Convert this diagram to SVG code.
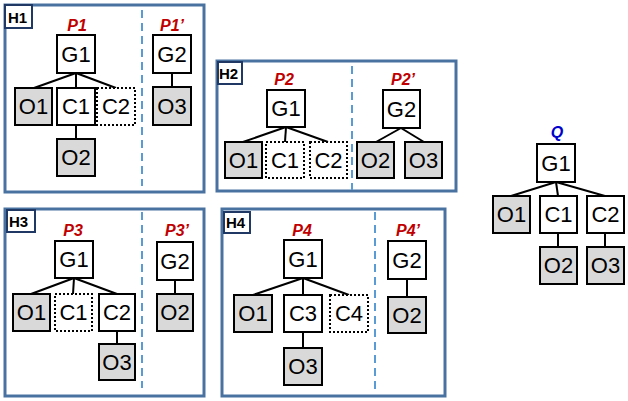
<svg xmlns="http://www.w3.org/2000/svg" width="628" height="401" viewBox="0 0 628 401">
<style>
.panel{fill:#fff;stroke:#4a72a0;stroke-width:3}
.hl{fill:#fff;stroke:#1f3864;stroke-width:2}
.ht{font-family:"Liberation Sans",Arial,sans-serif;font-weight:bold;font-size:15px;fill:#000}
.pt{font-family:"Liberation Sans",Arial,sans-serif;font-weight:bold;font-style:italic;font-size:16px;fill:#c00000;text-anchor:middle}
.qt{fill:#0000cc}
.div{stroke:#5b9bd5;stroke-width:2;stroke-dasharray:8,5}
.w rect{fill:#fff;stroke:#000;stroke-width:2}
.o rect{fill:#d9d9d9;stroke:#000;stroke-width:2}
.d rect{fill:#fff;stroke:#000;stroke-width:2;stroke-dasharray:2,2}
.n text{font-family:"Liberation Sans",Arial,sans-serif;font-size:22px;text-anchor:middle;fill:#000}
.e line{stroke:#000;stroke-width:2}
</style>
<rect width="628" height="401" fill="#fff"/>
<!-- panels -->
<rect class="panel" x="5" y="5" width="199" height="187"/>
<rect class="panel" x="217" y="61" width="239" height="130"/>
<rect class="panel" x="5" y="209" width="199" height="187"/>
<rect class="panel" x="222" y="209" width="223" height="187"/>
<line class="div" x1="142" y1="10" x2="142" y2="186"/>
<line class="div" x1="352" y1="66" x2="352" y2="190"/>
<line class="div" x1="142" y1="212" x2="142" y2="388"/>
<line class="div" x1="375" y1="212" x2="375" y2="394"/>
<rect class="hl" x="5" y="5" width="27" height="23"/><text class="ht" x="8" y="23">H1</text>
<rect class="hl" x="218" y="62" width="24" height="22"/><text class="ht" x="219" y="79">H2</text>
<rect class="hl" x="7" y="210" width="28" height="22"/><text class="ht" x="9" y="227">H3</text>
<rect class="hl" x="224" y="212" width="26" height="21"/><text class="ht" x="226" y="228">H4</text>
<text class="pt" x="77" y="31">P1</text>
<text class="pt" x="172" y="31">P1’</text>
<text class="pt" x="284" y="85">P2</text>
<text class="pt" x="403" y="85">P2’</text>
<text class="pt" x="73" y="236">P3</text>
<text class="pt" x="177" y="236">P3’</text>
<text class="pt" x="302" y="236">P4</text>
<text class="pt" x="408" y="236">P4’</text>
<text class="pt qt" x="557" y="138">Q</text>
<!-- connectors -->
<g id="connectors" class="e">
<line x1="76" y1="73" x2="34" y2="88"/><line x1="76" y1="73" x2="76" y2="88"/><line x1="76" y1="73" x2="116" y2="88"/><line x1="76" y1="125" x2="76" y2="139"/>
<line x1="172" y1="73" x2="172" y2="87"/>
<line x1="286" y1="127" x2="243" y2="142"/><line x1="286" y1="127" x2="285" y2="142"/><line x1="286" y1="127" x2="328" y2="142"/>
<line x1="401" y1="128" x2="376" y2="142"/><line x1="401" y1="128" x2="424" y2="142"/>
<line x1="74" y1="278" x2="31" y2="294"/><line x1="74" y1="278" x2="73" y2="294"/><line x1="74" y1="278" x2="117" y2="294"/><line x1="117" y1="331" x2="117" y2="344"/>
<line x1="175" y1="280" x2="175" y2="294"/>
<line x1="303" y1="278" x2="253" y2="295"/><line x1="303" y1="278" x2="303" y2="295"/><line x1="303" y1="278" x2="349" y2="295"/><line x1="303" y1="332" x2="303" y2="348"/>
<line x1="407" y1="279" x2="407" y2="297"/>
<line x1="556" y1="182" x2="511" y2="196"/><line x1="556" y1="182" x2="558" y2="196"/><line x1="556" y1="182" x2="605" y2="196"/><line x1="558" y1="233" x2="558" y2="247"/><line x1="605" y1="233" x2="605" y2="247"/>
</g>
<!-- H1 -->
<g id="h1-g1" class="n w"><rect x="57" y="35" width="38" height="38"/><text x="76" y="62">G1</text></g>
<g id="h1-o1" class="n o"><rect x="15" y="88" width="37" height="37"/><text x="33.5" y="114">O1</text></g>
<g id="h1-c1" class="n w"><rect x="57" y="88" width="38" height="37"/><text x="76" y="114">C1</text></g>
<g id="h1-c2" class="n d"><rect x="97" y="88" width="38" height="37"/><text x="116" y="114">C2</text></g>
<g id="h1-o2" class="n o"><rect x="57" y="139" width="38" height="37"/><text x="76" y="165">O2</text></g>
<g id="h1-g2" class="n w"><rect x="153" y="35" width="38" height="38"/><text x="172" y="62">G2</text></g>
<g id="h1-o3" class="n o"><rect x="153" y="87" width="38" height="38"/><text x="172" y="114">O3</text></g>
<!-- H2 -->
<g id="h2-g1" class="n w"><rect x="267" y="90" width="38" height="37"/><text x="286" y="116">G1</text></g>
<g id="h2-o1" class="n o"><rect x="225" y="142" width="37" height="36"/><text x="243.5" y="168">O1</text></g>
<g id="h2-c1" class="n d"><rect x="266" y="142" width="38" height="36"/><text x="285" y="168">C1</text></g>
<g id="h2-c2" class="n d"><rect x="310" y="142" width="37" height="36"/><text x="328.5" y="168">C2</text></g>
<g id="h2-g2" class="n w"><rect x="383" y="90" width="37" height="38"/><text x="401.5" y="117">G2</text></g>
<g id="h2-o2" class="n o"><rect x="357" y="142" width="37" height="36"/><text x="375.5" y="168">O2</text></g>
<g id="h2-o3" class="n o"><rect x="405" y="142" width="37" height="36"/><text x="423.5" y="168">O3</text></g>
<!-- H3 -->
<g id="h3-g1" class="n w"><rect x="55" y="241" width="38" height="37"/><text x="74" y="267">G1</text></g>
<g id="h3-o1" class="n o"><rect x="13" y="294" width="37" height="37"/><text x="31.5" y="320">O1</text></g>
<g id="h3-c1" class="n d"><rect x="55" y="294" width="37" height="37"/><text x="73.5" y="320">C1</text></g>
<g id="h3-c2" class="n w"><rect x="99" y="294" width="36" height="37"/><text x="117" y="320">C2</text></g>
<g id="h3-o3" class="n o"><rect x="99" y="344" width="36" height="36"/><text x="117" y="370">O3</text></g>
<g id="h3-g2" class="n w"><rect x="157" y="242" width="36" height="38"/><text x="175" y="269">G2</text></g>
<g id="h3-o2" class="n o"><rect x="157" y="294" width="36" height="37"/><text x="175" y="320">O2</text></g>
<!-- H4 -->
<g id="h4-g1" class="n w"><rect x="284" y="240" width="38" height="38"/><text x="303" y="267">G1</text></g>
<g id="h4-o1" class="n o"><rect x="234" y="295" width="38" height="37"/><text x="253" y="321">O1</text></g>
<g id="h4-c3" class="n w"><rect x="284" y="295" width="38" height="37"/><text x="303" y="321">C3</text></g>
<g id="h4-c4" class="n d"><rect x="330" y="295" width="38" height="37"/><text x="349" y="321">C4</text></g>
<g id="h4-o3" class="n o"><rect x="284" y="348" width="38" height="37"/><text x="303" y="374">O3</text></g>
<g id="h4-g2" class="n w"><rect x="388" y="241" width="38" height="38"/><text x="407" y="268">G2</text></g>
<g id="h4-o2" class="n o"><rect x="388" y="297" width="38" height="36"/><text x="407" y="323">O2</text></g>
<!-- Q -->
<g id="q-g1" class="n w"><rect x="537" y="144" width="38" height="38"/><text x="556" y="171">G1</text></g>
<g id="q-o1" class="n o"><rect x="493" y="196" width="37" height="37"/><text x="511.5" y="222">O1</text></g>
<g id="q-c1" class="n w"><rect x="540" y="196" width="37" height="37"/><text x="558.5" y="222">C1</text></g>
<g id="q-c2" class="n w"><rect x="587" y="196" width="37" height="37"/><text x="605.5" y="222">C2</text></g>
<g id="q-o2" class="n o"><rect x="540" y="247" width="37" height="37"/><text x="558.5" y="273">O2</text></g>
<g id="q-o3" class="n o"><rect x="587" y="247" width="37" height="37"/><text x="605.5" y="273">O3</text></g>
</svg>
